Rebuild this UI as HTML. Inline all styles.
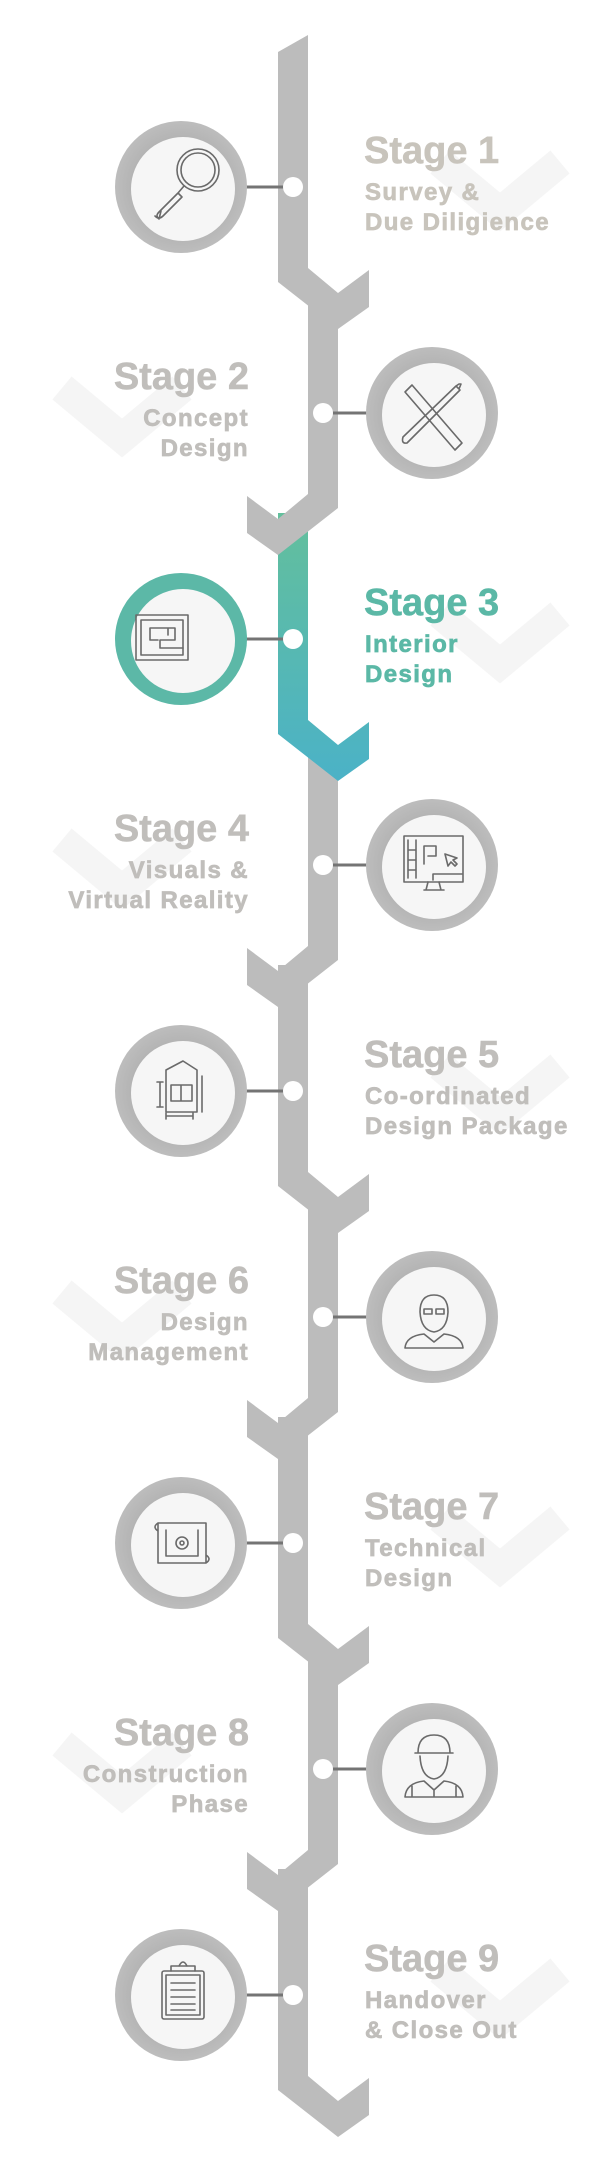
<!DOCTYPE html>
<html><head><meta charset="utf-8"><style>
html,body{margin:0;padding:0;background:#fff;}
svg{display:block;}
.t{font-family:"Liberation Sans",sans-serif;font-weight:bold;fill:#c0bebb;stroke:#c0bebb;stroke-width:0.5px;}
.h{font-size:38px;}
.s{font-size:24px;letter-spacing:1.4px;stroke-width:0.7px;}
.ic{fill:none;stroke:#6a6a6a;stroke-width:1.6;stroke-linejoin:round;stroke-linecap:round;}
</style></head><body>
<svg width="600" height="2176" viewBox="0 0 600 2176" xmlns="http://www.w3.org/2000/svg">
<defs>
<linearGradient id="teal" x1="0" y1="0" x2="0" y2="1"><stop offset="0" stop-color="#63bf9c"/><stop offset="1" stop-color="#4bb2c7"/></linearGradient>
<radialGradient id="rg" cx="0.5" cy="0.5" r="0.5"><stop offset="0.75" stop-color="#b4b4b4"/><stop offset="1" stop-color="#bdbdbd"/></radialGradient>
</defs>
<g fill="none" stroke="#f5f5f5" stroke-width="30" stroke-linejoin="miter">
<polyline points="440,162 500,212 560,162"/>
<polyline points="62,388 122,438 182,388"/>
<polyline points="440,614 500,664 560,614"/>
<polyline points="62,840 122,890 182,840"/>
<polyline points="440,1066 500,1116 560,1066"/>
<polyline points="62,1292 122,1342 182,1292"/>
<polyline points="440,1518 500,1568 560,1518"/>
<polyline points="62,1744 122,1794 182,1744"/>
<polyline points="440,1970 500,2020 560,1970"/>
</g>
<g fill="#bcbcbc">
<polygon points="278,1869 308,1869 308,2076 338,2101 369,2078 369,2115 338,2137 278,2090"/>
<polygon points="308,1653 338,1653 338,1864 278,1911 247,1889 247,1852 278,1875 308,1850"/>
<polygon points="278,1417 308,1417 308,1624 338,1649 369,1626 369,1663 338,1685 278,1638"/>
<polygon points="308,1201 338,1201 338,1412 278,1459 247,1437 247,1400 278,1423 308,1398"/>
<polygon points="278,965 308,965 308,1172 338,1197 369,1174 369,1211 338,1233 278,1186"/>
<polygon points="308,749 338,749 338,960 278,1007 247,985 247,948 278,971 308,946"/>
<polygon fill="url(#teal)" points="278,513 308,513 308,720 338,745 369,722 369,759 338,781 278,734"/>
<polygon points="308,297 338,297 338,508 278,555 247,533 247,496 278,519 308,494"/>
<polygon points="278,52 308,35 308,268 338,293 369,270 369,307 338,329 278,282"/>
</g>
<g stroke="#747474" stroke-width="3">
<line x1="245" y1="187" x2="293" y2="187"/>
<line x1="323" y1="413" x2="368" y2="413"/>
<line x1="245" y1="639" x2="293" y2="639"/>
<line x1="323" y1="865" x2="368" y2="865"/>
<line x1="245" y1="1091" x2="293" y2="1091"/>
<line x1="323" y1="1317" x2="368" y2="1317"/>
<line x1="245" y1="1543" x2="293" y2="1543"/>
<line x1="323" y1="1769" x2="368" y2="1769"/>
<line x1="245" y1="1995" x2="293" y2="1995"/>
</g>
<g fill="#fff">
<circle cx="293" cy="187" r="10"/><circle cx="323" cy="413" r="10"/><circle cx="293" cy="639" r="10"/>
<circle cx="323" cy="865" r="10"/><circle cx="293" cy="1091" r="10"/><circle cx="323" cy="1317" r="10"/>
<circle cx="293" cy="1543" r="10"/><circle cx="323" cy="1769" r="10"/><circle cx="293" cy="1995" r="10"/>
</g>
<g fill="url(#rg)">
<circle cx="181" cy="187" r="66"/><circle cx="432" cy="413" r="66"/>
<circle cx="181" cy="639" r="66" fill="#5cb8a7"/>
<circle cx="432" cy="865" r="66"/><circle cx="181" cy="1091" r="66"/><circle cx="432" cy="1317" r="66"/>
<circle cx="181" cy="1543" r="66"/><circle cx="432" cy="1769" r="66"/><circle cx="181" cy="1995" r="66"/>
</g>
<g fill="#f6f6f6">
<circle cx="183" cy="189" r="52"/><circle cx="434" cy="415" r="52"/><circle cx="183" cy="641" r="52"/>
<circle cx="434" cy="867" r="52"/><circle cx="183" cy="1093" r="52"/><circle cx="434" cy="1319" r="52"/>
<circle cx="183" cy="1545" r="52"/><circle cx="434" cy="1771" r="52"/><circle cx="183" cy="1997" r="52"/>
</g>
<g class="ic">
<circle cx="198" cy="170" r="21"/><circle cx="198" cy="170" r="17"/>
<path d="M184,186 L178,193 L159,212 Q155,216 159,219 L161,211 M178,193 L182,197 L163,216 Q159,220 155,216"/>
<path d="M405,392 L412,385 L462,443 L455,450 Z"/>
<path d="M456,386 L459,384 L461,384 L459,389 Z M456,386 L403,437 Q401,444 407,443 L460,390"/>
<rect x="136" y="615" width="52" height="45"/><rect x="141" y="620" width="42" height="35"/>
<path d="M150,628 H175 V640 H160 V648 H183 M150,628 V640 H158 M168,628 V635"/>
<rect x="404" y="836" width="59" height="46"/><path d="M408,840 V878 M416,840 V878 M408,850 H416 M408,860 H416 M408,870 H416 M424,846 V864 M424,846 H436 V856 H428 M433,880 V874 H462 M428,882 L426,890 H441 L439,882 M424,890 H444"/>
<path d="M445,854 L448,866 L451,862 L455,866 L457,864 L453,860 L457,858 Z"/>
<path d="M166,1070 L183,1061 L197,1070 V1112 H166 Z M171,1085 H192 V1101 H171 Z M181,1085 V1101 M160,1082 V1107 M157,1082 H163 M157,1107 H163 M166,1116 H193 M166,1113 V1119 M193,1113 V1119 M202,1076 V1112"/>
<path d="M420,1312 Q420,1295 434,1295 Q448,1295 448,1312 M420,1312 Q421,1330 434,1332 Q447,1330 448,1312 M424,1309 H432 V1314 H424 Z M436,1309 H444 V1314 H436 Z M405,1348 Q406,1336 424,1334 L434,1342 L444,1334 Q462,1336 463,1348 Z M405,1348 H463"/>
<path d="M158,1523 H206 V1563 H158 Z M158,1523 Q152,1527 158,1531 M206,1563 Q212,1559 206,1555 M166,1530 V1556 H198 V1530"/>
<circle cx="182" cy="1543" r="6"/><circle cx="182" cy="1543" r="2"/>
<path d="M418,1753 Q418,1735 434,1735 Q450,1735 450,1753 Z M415,1753 H453 M420,1756 Q421,1777 434,1779 Q447,1777 448,1756 M405,1797 Q406,1783 424,1781 L434,1790 L444,1781 Q462,1783 463,1797 Z M412,1786 V1797 M456,1786 V1797 M434,1790 V1797"/>
<rect x="162" y="1971" width="42" height="48" rx="2"/><rect x="166" y="1975" width="34" height="40"/>
<path d="M171,1971 V1966 H195 V1971 M179,1966 Q183,1958 187,1966 M171,1983 H195 M171,1990 H195 M171,1997 H195 M171,2004 H195 M171,2010 H195"/>
</g>
<g class="t">
<text class="h" x="364" y="163" style="fill:#c8c4bc;stroke:#c8c4bc">Stage 1</text>
<text class="s" x="365" y="200" style="fill:#c8c4bc;stroke:#c8c4bc">Survey &amp;</text>
<text class="s" x="365" y="230" style="fill:#c8c4bc;stroke:#c8c4bc">Due Diligience</text>

<text class="h" x="249" y="389" text-anchor="end">Stage 2</text>
<text class="s" x="249" y="426" text-anchor="end">Concept</text>
<text class="s" x="249" y="456" text-anchor="end">Design</text>

<text class="h" x="364" y="615" style="fill:#5bb8a6;stroke:#5bb8a6">Stage 3</text>
<text class="s" x="365" y="652" style="fill:#5bb8a6;stroke:#5bb8a6">Interior</text>
<text class="s" x="365" y="682" style="fill:#5bb8a6;stroke:#5bb8a6">Design</text>

<text class="h" x="249" y="841" text-anchor="end">Stage 4</text>
<text class="s" x="249" y="878" text-anchor="end">Visuals &amp;</text>
<text class="s" x="249" y="908" text-anchor="end">Virtual Reality</text>

<text class="h" x="364" y="1067">Stage 5</text>
<text class="s" x="365" y="1104">Co-ordinated</text>
<text class="s" x="365" y="1134">Design Package</text>

<text class="h" x="249" y="1293" text-anchor="end">Stage 6</text>
<text class="s" x="249" y="1330" text-anchor="end">Design</text>
<text class="s" x="249" y="1360" text-anchor="end">Management</text>

<text class="h" x="364" y="1519">Stage 7</text>
<text class="s" x="365" y="1556">Technical</text>
<text class="s" x="365" y="1586">Design</text>

<text class="h" x="249" y="1745" text-anchor="end">Stage 8</text>
<text class="s" x="249" y="1782" text-anchor="end">Construction</text>
<text class="s" x="249" y="1812" text-anchor="end">Phase</text>

<text class="h" x="364" y="1971">Stage 9</text>
<text class="s" x="365" y="2008">Handover</text>
<text class="s" x="365" y="2038">&amp; Close Out</text>
</g>
</svg>
</body></html>
